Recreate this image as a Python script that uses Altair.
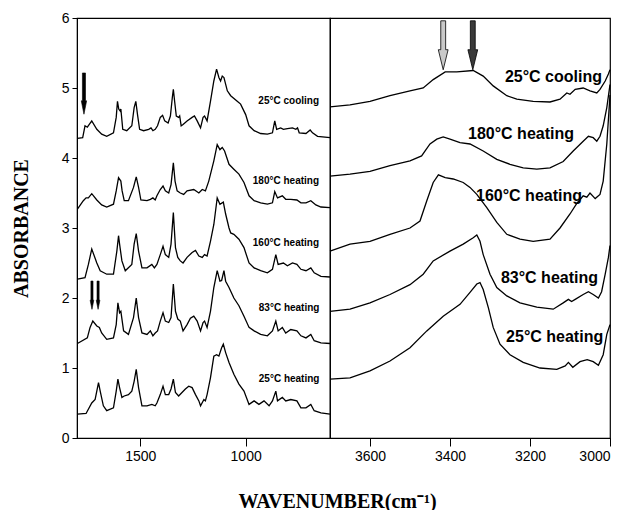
import altair as alt
import pandas as pd

# Fingerprint region (1800-600 cm-1), (wavenumber, absorbance), spectra offset vertically
FP_25_COOLING = [(1798, 4.28), (1773, 4.29), (1762, 4.46), (1751, 4.44), (1730, 4.53), (1706, 4.41),
                 (1683, 4.34), (1659, 4.31), (1627, 4.36), (1614, 4.58), (1608, 4.81), (1602, 4.70),
                 (1595, 4.67), (1592, 4.70), (1583, 4.41), (1564, 4.39), (1540, 4.46), (1529, 4.72),
                 (1521, 4.81), (1513, 4.62), (1503, 4.41), (1484, 4.39), (1460, 4.41), (1449, 4.43),
                 (1440, 4.39), (1429, 4.41), (1418, 4.46), (1405, 4.58), (1394, 4.61), (1384, 4.53),
                 (1368, 4.50), (1357, 4.60), (1348, 4.86), (1343, 4.98), (1337, 4.81), (1329, 4.60),
                 (1318, 4.58), (1313, 4.60), (1306, 4.46), (1297, 4.48), (1278, 4.53), (1254, 4.58),
                 (1243, 4.60), (1230, 4.53), (1214, 4.43), (1202, 4.58), (1195, 4.60), (1183, 4.53),
                 (1167, 4.81), (1151, 5.10), (1138, 5.27), (1127, 5.15), (1119, 5.10), (1111, 5.17),
                 (1103, 5.15), (1087, 4.96), (1071, 4.89), (1040, 4.81), (1024, 4.77), (1000, 4.62),
                 (984, 4.46), (960, 4.39), (929, 4.35), (897, 4.34), (873, 4.36), (862, 4.53),
                 (853, 4.41), (834, 4.43), (821, 4.41), (802, 4.42), (778, 4.43), (762, 4.41),
                 (754, 4.43), (746, 4.36), (714, 4.35), (694, 4.40), (683, 4.36), (659, 4.31),
                 (600, 4.29)]
FP_180_HEATING = [(1798, 3.27), (1770, 3.39), (1757, 3.43), (1746, 3.43), (1730, 3.49), (1706, 3.40),
                  (1683, 3.33), (1659, 3.30), (1627, 3.34), (1614, 3.53), (1603, 3.72), (1592, 3.67),
                  (1586, 3.53), (1576, 3.39), (1556, 3.39), (1532, 3.58), (1519, 3.73), (1508, 3.58),
                  (1497, 3.40), (1468, 3.39), (1452, 3.41), (1440, 3.43), (1429, 3.40), (1421, 3.46),
                  (1405, 3.55), (1392, 3.60), (1381, 3.53), (1365, 3.50), (1354, 3.62), (1343, 3.93),
                  (1335, 3.67), (1325, 3.53), (1310, 3.50), (1294, 3.48), (1278, 3.53), (1246, 3.55),
                  (1222, 3.50), (1206, 3.55), (1191, 3.53), (1175, 3.67), (1151, 3.96), (1135, 4.19),
                  (1122, 4.12), (1111, 4.15), (1100, 4.10), (1079, 3.91), (1056, 3.84), (1032, 3.77),
                  (1008, 3.65), (984, 3.46), (960, 3.39), (929, 3.36), (897, 3.34), (873, 3.36),
                  (862, 3.52), (849, 3.43), (826, 3.46), (810, 3.41), (786, 3.41), (757, 3.40),
                  (738, 3.36), (714, 3.36), (691, 3.39), (667, 3.33), (643, 3.30), (600, 3.29)]
FP_160_HEATING = [(1798, 2.27), (1762, 2.29), (1746, 2.48), (1730, 2.70), (1706, 2.50), (1690, 2.39),
                  (1659, 2.34), (1627, 2.34), (1611, 2.67), (1603, 2.89), (1598, 2.77), (1587, 2.53),
                  (1571, 2.39), (1540, 2.48), (1529, 2.77), (1519, 2.92), (1508, 2.67), (1492, 2.43),
                  (1468, 2.43), (1445, 2.48), (1433, 2.43), (1421, 2.48), (1405, 2.62), (1392, 2.74),
                  (1381, 2.62), (1365, 2.58), (1354, 2.77), (1343, 3.22), (1333, 2.72), (1322, 2.58),
                  (1310, 2.53), (1297, 2.50), (1278, 2.58), (1254, 2.65), (1238, 2.68), (1222, 2.60),
                  (1206, 2.58), (1195, 2.62), (1183, 2.60), (1167, 2.81), (1151, 3.05), (1135, 3.43),
                  (1122, 3.34), (1106, 3.37), (1095, 3.20), (1079, 3.00), (1071, 2.93), (1056, 2.91),
                  (1032, 2.84), (1008, 2.72), (984, 2.50), (960, 2.43), (929, 2.39), (897, 2.36),
                  (873, 2.41), (857, 2.62), (846, 2.48), (821, 2.50), (802, 2.46), (778, 2.50),
                  (757, 2.48), (738, 2.41), (714, 2.39), (691, 2.43), (675, 2.36), (643, 2.31),
                  (600, 2.30)]
FP_83_HEATING = [(1798, 1.35), (1751, 1.43), (1738, 1.58), (1725, 1.67), (1706, 1.60), (1694, 1.58),
                 (1683, 1.50), (1659, 1.41), (1627, 1.43), (1614, 1.62), (1606, 1.93), (1598, 1.79),
                 (1592, 1.81), (1579, 1.53), (1556, 1.48), (1532, 1.72), (1519, 2.00), (1508, 1.72),
                 (1492, 1.50), (1468, 1.48), (1452, 1.53), (1440, 1.46), (1429, 1.50), (1418, 1.53),
                 (1405, 1.67), (1392, 1.79), (1381, 1.67), (1365, 1.65), (1354, 1.72), (1343, 2.20),
                 (1333, 1.81), (1322, 1.70), (1310, 1.67), (1297, 1.53), (1278, 1.62), (1262, 1.71),
                 (1246, 1.74), (1230, 1.67), (1214, 1.53), (1202, 1.65), (1195, 1.67), (1183, 1.58),
                 (1167, 1.81), (1151, 2.15), (1135, 2.39), (1122, 2.24), (1114, 2.25), (1103, 2.39),
                 (1095, 2.24), (1079, 2.15), (1056, 2.00), (1032, 1.89), (1008, 1.74), (984, 1.58),
                 (960, 1.53), (929, 1.48), (897, 1.46), (873, 1.53), (857, 1.67), (846, 1.53),
                 (826, 1.58), (810, 1.50), (786, 1.55), (757, 1.53), (738, 1.46), (714, 1.43),
                 (691, 1.48), (675, 1.39), (643, 1.36), (600, 1.35)]
FP_25_HEATING = [(1798, 0.34), (1757, 0.35), (1730, 0.50), (1714, 0.55), (1698, 0.79), (1690, 0.67),
                 (1675, 0.46), (1659, 0.39), (1627, 0.43), (1614, 0.67), (1606, 0.84), (1598, 0.72),
                 (1587, 0.58), (1576, 0.60), (1556, 0.62), (1540, 0.67), (1529, 0.81), (1519, 0.98),
                 (1508, 0.72), (1492, 0.46), (1468, 0.46), (1445, 0.48), (1429, 0.46), (1421, 0.50),
                 (1405, 0.62), (1392, 0.74), (1381, 0.62), (1365, 0.62), (1354, 0.70), (1343, 0.84),
                 (1333, 0.65), (1318, 0.60), (1302, 0.65), (1286, 0.70), (1270, 0.74), (1254, 0.72),
                 (1238, 0.62), (1222, 0.53), (1214, 0.46), (1198, 0.55), (1191, 0.53), (1183, 0.62),
                 (1167, 0.86), (1151, 1.17), (1138, 1.19), (1127, 1.17), (1114, 1.29), (1106, 1.34),
                 (1095, 1.22), (1079, 1.08), (1056, 0.91), (1032, 0.77), (1008, 0.67), (984, 0.48),
                 (960, 0.53), (937, 0.48), (913, 0.53), (889, 0.46), (873, 0.53), (857, 0.67),
                 (849, 0.53), (826, 0.58), (810, 0.53), (786, 0.55), (757, 0.53), (738, 0.43),
                 (714, 0.43), (691, 0.48), (675, 0.39), (643, 0.36), (600, 0.34)]

# O-H / N-H stretching region (3700-3000 cm-1)
OH_25_COOLING = [(3700, 4.73), (3650, 4.76), (3600, 4.81), (3550, 4.89), (3500, 4.96), (3467, 5.00),
                 (3442, 5.12), (3412, 5.23), (3383, 5.23), (3342, 5.25), (3317, 5.17), (3292, 5.03),
                 (3258, 4.89), (3233, 4.84), (3192, 4.81), (3150, 4.80), (3125, 4.84), (3108, 4.93),
                 (3100, 4.91), (3087, 4.98), (3067, 5.00), (3050, 4.96), (3033, 4.93), (3025, 4.98),
                 (3012, 5.10), (3004, 5.20), (3000, 5.26)]
OH_180_HEATING = [(3700, 3.74), (3650, 3.77), (3600, 3.81), (3550, 3.89), (3500, 3.96), (3471, 4.03),
                  (3450, 4.20), (3433, 4.27), (3417, 4.30), (3400, 4.27), (3375, 4.22), (3350, 4.20),
                  (3317, 4.10), (3283, 3.98), (3250, 3.91), (3217, 3.86), (3183, 3.84), (3150, 3.86),
                  (3117, 3.95), (3092, 4.10), (3067, 4.24), (3054, 4.31), (3042, 4.29), (3033, 4.24),
                  (3025, 4.31), (3017, 4.46), (3008, 4.72), (3000, 5.05)]
OH_160_HEATING = [(3700, 2.67), (3650, 2.77), (3600, 2.81), (3550, 2.91), (3500, 3.00), (3475, 3.10),
                  (3458, 3.39), (3442, 3.65), (3429, 3.76), (3412, 3.72), (3392, 3.70), (3367, 3.65),
                  (3350, 3.58), (3333, 3.48), (3308, 3.29), (3283, 3.08), (3258, 2.91), (3225, 2.84),
                  (3192, 2.81), (3150, 2.84), (3125, 3.00), (3100, 3.20), (3083, 3.35), (3067, 3.46),
                  (3058, 3.44), (3050, 3.50), (3037, 3.42), (3025, 3.48), (3017, 3.67), (3008, 4.20),
                  (3000, 4.90)]
OH_83_HEATING = [(3700, 1.81), (3650, 1.84), (3600, 1.93), (3550, 2.05), (3500, 2.19), (3467, 2.34),
                 (3442, 2.53), (3400, 2.67), (3367, 2.77), (3342, 2.86), (3333, 2.90), (3325, 2.81),
                 (3317, 2.62), (3300, 2.34), (3283, 2.15), (3258, 2.03), (3225, 1.93), (3183, 1.87),
                 (3142, 1.84), (3117, 1.93), (3104, 1.98), (3096, 1.95), (3087, 1.98), (3067, 2.05),
                 (3054, 2.09), (3042, 2.05), (3029, 2.00), (3021, 2.09), (3012, 2.34), (3004, 2.58),
                 (3000, 2.75)]
OH_25_HEATING = [(3700, 0.84), (3650, 0.86), (3600, 0.96), (3550, 1.10), (3500, 1.29), (3458, 1.53),
                 (3417, 1.74), (3375, 1.91), (3350, 2.08), (3333, 2.20), (3325, 2.22), (3317, 2.12),
                 (3304, 1.86), (3292, 1.58), (3275, 1.34), (3250, 1.19), (3217, 1.08), (3175, 1.00),
                 (3133, 0.98), (3112, 1.03), (3104, 1.08), (3093, 1.01), (3075, 1.09), (3057, 1.12),
                 (3042, 1.09), (3029, 1.04), (3017, 1.19), (3008, 1.48), (3000, 1.62)]

CONDITIONS = ["25°C cooling", "180°C heating", "160°C heating", "83°C heating", "25°C heating"]
FP_SPECTRA = [FP_25_COOLING, FP_180_HEATING, FP_160_HEATING, FP_83_HEATING, FP_25_HEATING]
OH_SPECTRA = [OH_25_COOLING, OH_180_HEATING, OH_160_HEATING, OH_83_HEATING, OH_25_HEATING]

# label anchors (right end of text)
FP_LABEL_WN = [652, 652, 652, 650, 650]
FP_LABEL_ABS = [4.81, 3.67, 2.79, 1.86, 0.84]
OH_LABEL_WN = [3020, 3090, 3070, 3030, 3017]
OH_LABEL_ABS = [5.16, 4.34, 3.46, 2.29, 1.44]

# band markers
FP_ARROW_WN = [1767]
FP_ARROW_ABS = [4.92]
FP_PAIR_ARROW_WN = [1729, 1700]
FP_PAIR_ARROW_ABS = [2.04, 2.04]
OH_ARROW_WN = [3417, 3343]
OH_ARROW_ABS = [5.61, 5.61]
OH_ARROW_KIND = ["free", "bonded"]


def spectra_frame(spectra):
    rows = []
    for name, pts in zip(CONDITIONS, spectra):
        for i, (wn, a) in enumerate(pts):
            rows.append({"condition": name, "idx": i, "wn": wn, "absorbance": a})
    return pd.DataFrame(rows)


fp_df = spectra_frame(FP_SPECTRA)
oh_df = spectra_frame(OH_SPECTRA)
fp_lab = pd.DataFrame({"label": CONDITIONS, "wn": FP_LABEL_WN, "absorbance": FP_LABEL_ABS})
oh_lab = pd.DataFrame({"label": CONDITIONS, "wn": OH_LABEL_WN, "absorbance": OH_LABEL_ABS})
fp_arr = pd.DataFrame({"wn": FP_ARROW_WN, "absorbance": FP_ARROW_ABS})
fp_pair = pd.DataFrame({"wn": FP_PAIR_ARROW_WN, "absorbance": FP_PAIR_ARROW_ABS})
oh_arr = pd.DataFrame({"wn": OH_ARROW_WN, "absorbance": OH_ARROW_ABS, "kind": OH_ARROW_KIND})

PW_L, PW_R, PH = 253, 280, 420

y_axis = alt.Axis(values=[0, 1, 2, 3, 4, 5, 6], format="d", tickSize=5, labelPadding=3,
                  title="ABSORBANCE", titlePadding=30)
y_left = alt.Y("absorbance:Q", scale=alt.Scale(domain=[0, 6], nice=False, zero=False), axis=y_axis)
y_right = alt.Y("absorbance:Q", scale=alt.Scale(domain=[0, 6], nice=False, zero=False), axis=None)

x_left = alt.X("wn:Q", scale=alt.Scale(domain=[600, 1800], reverse=True, nice=False, zero=False),
               axis=alt.Axis(values=[1500, 1000], format="d", title="WAVENUMBER(cm⁻¹)",
                             titleX=260, titleY=63, titleBaseline="middle", titleAlign="center"))
x_right = alt.X("wn:Q", scale=alt.Scale(domain=[3000, 3700], reverse=True, nice=False, zero=False),
                axis=alt.Axis(values=[3600, 3400, 3200, 3000], format="d", title=None))

SANS = "Liberation Sans"

# arrow glyphs drawn in the symbol unit box [-1, 1]
BIG_ARROW = "M-0.1,-1 L0.1,-1 L0.1,0.18 L0.2,0.18 L0,1 L-0.2,0.18 L-0.1,0.18 Z"
THIN_ARROW = "M-0.075,-1 L0.075,-1 L0.075,0.35 L0.13,0.35 L0,1 L-0.13,0.35 L-0.075,0.35 Z"

fp_lines = alt.Chart(fp_df).mark_line(color="black", strokeWidth=1.3).encode(
    x=x_left, y=y_left, detail="condition:N", order="idx:Q")
fp_text = alt.Chart(fp_lab).mark_text(align="right", baseline="middle", font=SANS, fontSize=10,
                                      fontWeight="bold", color="black").encode(
    x=x_left, y=y_left, text="label:N")
fp_arrow = alt.Chart(fp_arr).mark_point(shape=THIN_ARROW, size=1700, filled=True, fill="black",
                                        stroke="black", strokeWidth=0.6, opacity=1).encode(
    x=x_left, y=y_left)
fp_pair_arrow = alt.Chart(fp_pair).mark_point(shape=THIN_ARROW, size=800, filled=True, fill="black",
                                              stroke="black", strokeWidth=0.6, opacity=1).encode(
    x=x_left, y=y_left)

oh_lines = alt.Chart(oh_df).mark_line(color="black", strokeWidth=1.3).encode(
    x=x_right, y=y_right, detail="condition:N", order="idx:Q")
oh_text = alt.Chart(oh_lab).mark_text(align="right", baseline="middle", font=SANS, fontSize=16,
                                      fontWeight="bold", color="black").encode(
    x=x_right, y=y_right, text="label:N")
oh_arrow = alt.Chart(oh_arr).mark_point(shape=BIG_ARROW, size=2400, filled=True, stroke="black",
                                        strokeWidth=0.8, opacity=1).encode(
    x=x_right, y=y_right,
    fill=alt.Fill("kind:N", scale=alt.Scale(domain=["free", "bonded"], range=["#c9c9c9", "#3a3a3a"]),
                  legend=None))

left = alt.layer(fp_lines, fp_text, fp_arrow, fp_pair_arrow).properties(width=PW_L, height=PH)
right = alt.layer(oh_lines, oh_text, oh_arrow).properties(width=PW_R, height=PH)

chart = alt.hconcat(left, right, spacing=0, bounds="flush").properties(
    padding={"left": 10, "top": 10, "right": 5, "bottom": 0},
    background="white",
).configure_view(stroke="black", strokeWidth=1.2).configure_axis(
    grid=False, domainColor="black", tickColor="black", tickSize=8, labelPadding=3,
    labelFont=SANS, labelFontSize=14, labelColor="black",
    titleFont="Liberation Serif", titleFontSize=20, titleFontWeight="bold", titleColor="black",
)

chart.save("out.html", embed_options={"renderer": "svg", "actions": False})
